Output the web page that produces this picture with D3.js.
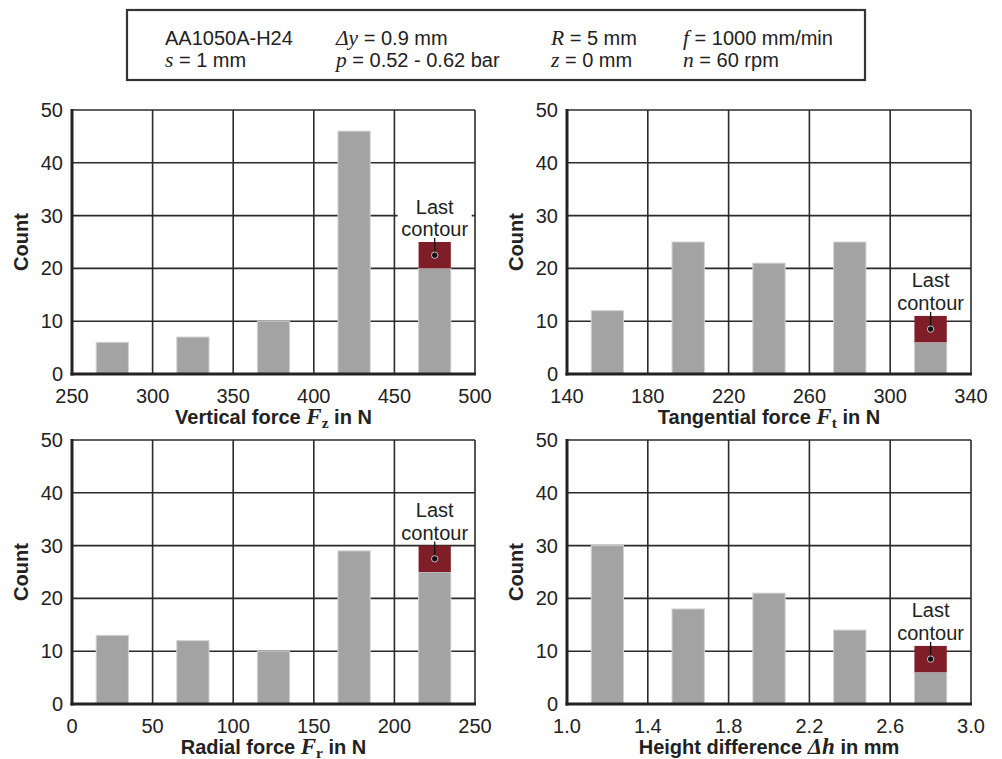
<!DOCTYPE html>
<html><head><meta charset="utf-8">
<script src="https://cdn.jsdelivr.net/npm/d3@7"></script>
<style>
body{margin:0;background:#fff;}
svg{display:block;}
</style></head><body>
<svg id="c" width="1002" height="759"></svg>
<script>
// ---- data ----
const countTicks = [0, 10, 20, 30, 40, 50];
const fzTicks = [250, 300, 350, 400, 450, 500];
const fzCounts = [6, 7, 10, 46, 20];
const fzLast = 5;
const ftTicks = [140, 180, 220, 260, 300, 340];
const ftCounts = [12, 25, 21, 25, 6];
const ftLast = 5;
const frTicks = [0, 50, 100, 150, 200, 250];
const frCounts = [13, 12, 10, 29, 25];
const frLast = 5;
const dhTicks = [1.0, 1.4, 1.8, 2.2, 2.6, 3.0];
const dhTickLabels = ["1.0", "1.4", "1.8", "2.2", "2.6", "3.0"];
const dhCounts = [30, 18, 21, 14, 6];
const dhLast = 5;
const annotationLines = ["Last", "contour"];

const svg = d3.select("#c");
const SANS = "'Liberation Sans', Arial, Helvetica, sans-serif";
const SERIF = "'Liberation Serif', 'Times New Roman', serif";
const GRAY = "#a3a3a3", RED = "#7f1d29", INK = "#2b2b2b";
const FS = 20;

// ---- header box ----
const hdr = svg.append("g");
hdr.append("rect").attr("x", 127).attr("y", 10).attr("width", 738).attr("height", 70)
  .attr("fill", "none").attr("stroke", "#333").attr("stroke-width", 2.2);
function hText(x, y, parts) {
  const t = hdr.append("text").attr("x", x).attr("y", y).attr("fill", "#222");
  parts.forEach(p => {
    t.append("tspan").text(p[0])
      .attr("font-family", p[1] ? SERIF : SANS)
      .attr("font-style", p[1] ? "italic" : "normal")
      .attr("font-size", p[1] ? 21.5 : 20);
  });
}
hText(165, 45, [["AA1050A-H24", false]]);
hText(165, 67, [["s", true], [" = 1 mm", false]]);
hText(336, 45, [["\u0394y", true], [" = 0.9 mm", false]]);
hText(336, 67, [["p", true], [" = 0.52 - 0.62 bar", false]]);
hText(551, 45, [["R", true], [" = 5 mm", false]]);
hText(551, 67, [["z", true], [" = 0 mm", false]]);
hText(683, 45, [["f", true], [" = 1000 mm/min", false]]);
hText(683, 67, [["n", true], [" = 60 rpm", false]]);

// ---- panels ----
function panel(cfg) {
  const {left, right, top, bottom, ticks, tickLabels, counts, last, labelParts} = cfg;
  const g = svg.append("g");
  const x = d3.scaleLinear().domain([ticks[0], ticks[ticks.length - 1]]).range([left, right]);
  const y = d3.scaleLinear().domain([0, 50]).range([bottom, top]);

  // grid
  g.append("g").selectAll("line.h").data(countTicks.slice(1)).join("line")
    .attr("x1", left).attr("x2", right).attr("y1", d => y(d)).attr("y2", d => y(d))
    .attr("stroke", INK).attr("stroke-width", 1.6);
  g.append("g").selectAll("line.v").data(ticks.slice(1)).join("line")
    .attr("y1", top).attr("y2", bottom).attr("x1", d => x(d)).attr("x2", d => x(d))
    .attr("stroke", INK).attr("stroke-width", 1.6);

  // annotation background (cuts grid lines)
  const n = counts.length;
  const w = ticks[1] - ticks[0];
  const cx = x(ticks[n - 1] + w / 2);
  const topVal = counts[n - 1] + last;
  const baseY = y(topVal) - 6;
  g.append("rect").attr("x", cx - 37).attr("y", baseY - 38).attr("width", 74).attr("height", 42)
    .attr("fill", "#fff");

  // bars
  const bars = counts.map((c, i) => ({x0: ticks[i] + 0.3 * w, x1: ticks[i] + 0.7 * w, v: c}));
  g.append("g").selectAll("rect").data(bars).join("rect")
    .attr("x", d => x(d.x0)).attr("width", d => x(d.x1) - x(d.x0))
    .attr("y", d => y(d.v)).attr("height", d => y(0) - y(d.v))
    .attr("fill", GRAY).attr("stroke", "#d2d2d2").attr("stroke-width", 1);
  const lb = bars[n - 1];
  g.append("rect").attr("x", x(lb.x0)).attr("width", x(lb.x1) - x(lb.x0))
    .attr("y", y(lb.v + last)).attr("height", y(lb.v) - y(lb.v + last))
    .attr("fill", RED);

  // axes lines
  g.append("line").attr("x1", left).attr("x2", left).attr("y1", top - 1).attr("y2", bottom + 1.5)
    .attr("stroke", "#222").attr("stroke-width", 3);
  g.append("line").attr("x1", left - 1.5).attr("x2", right + 1).attr("y1", bottom).attr("y2", bottom)
    .attr("stroke", "#222").attr("stroke-width", 3);

  // tick labels
  g.append("g").selectAll("text").data(countTicks).join("text")
    .attr("x", left - 9).attr("y", d => y(d) + 7).attr("text-anchor", "end")
    .attr("font-family", SANS).attr("font-size", FS).attr("fill", "#222").text(d => d);
  g.append("g").selectAll("text").data(ticks).join("text")
    .attr("x", d => x(d)).attr("y", bottom + 29).attr("text-anchor", "middle")
    .attr("font-family", SANS).attr("font-size", FS).attr("fill", "#222")
    .text((d, i) => tickLabels ? tickLabels[i] : d);

  // y label
  g.append("text").attr("transform", `translate(${left - 44},${(top + bottom) / 2}) rotate(-90)`)
    .attr("text-anchor", "middle").attr("font-family", SANS).attr("font-weight", "bold")
    .attr("font-size", 20).attr("fill", "#222").text("Count");

  // x label
  const xl = g.append("text").attr("x", (left + right) / 2).attr("y", bottom + 50)
    .attr("text-anchor", "middle").attr("font-weight", "bold").attr("fill", "#222");
  labelParts.forEach(p => {
    const ts = xl.append("tspan").text(p.t);
    if (p.k === "sans") ts.attr("font-family", SANS).attr("font-size", 20);
    if (p.k === "var") ts.attr("font-family", SERIF).attr("font-style", "italic").attr("font-size", 23);
    if (p.k === "sub") ts.attr("font-family", SERIF).attr("font-size", 15.5).attr("dy", 4);
    if (p.k === "after") ts.attr("font-family", SANS).attr("font-size", 20).attr("dy", -4);
  });

  // annotation text
  annotationLines.forEach((s, i) => {
    g.append("text").attr("x", cx).attr("y", baseY - 22.5 * (annotationLines.length - 1 - i))
      .attr("text-anchor", "middle").attr("font-family", SANS).attr("font-size", FS)
      .attr("fill", "#222").text(s);
  });
  const dotY = y(lb.v + last / 2);
  g.append("line").attr("x1", cx).attr("x2", cx).attr("y1", baseY + 2).attr("y2", dotY)
    .attr("stroke", "#111").attr("stroke-width", 1.3);
  g.append("circle").attr("cx", cx).attr("cy", dotY).attr("r", 3.2)
    .attr("fill", "#111").attr("stroke", "#fff").attr("stroke-width", 0.7);
}

panel({left: 72, right: 475, top: 110, bottom: 374, ticks: fzTicks, counts: fzCounts, last: fzLast,
  labelParts: [{t: "Vertical force ", k: "sans"}, {t: "F", k: "var"}, {t: "z", k: "sub"}, {t: " in N", k: "after"}]});
panel({left: 567, right: 971, top: 110, bottom: 374, ticks: ftTicks, counts: ftCounts, last: ftLast,
  labelParts: [{t: "Tangential force ", k: "sans"}, {t: "F", k: "var"}, {t: "t", k: "sub"}, {t: " in N", k: "after"}]});
panel({left: 72, right: 475, top: 440, bottom: 704, ticks: frTicks, counts: frCounts, last: frLast,
  labelParts: [{t: "Radial force ", k: "sans"}, {t: "F", k: "var"}, {t: "r", k: "sub"}, {t: " in N", k: "after"}]});
panel({left: 567, right: 971, top: 440, bottom: 704, ticks: dhTicks, tickLabels: dhTickLabels, counts: dhCounts, last: dhLast,
  labelParts: [{t: "Height difference ", k: "sans"}, {t: "\u0394h", k: "var"}, {t: " in mm", k: "sans"}]});
</script>
</body></html>
